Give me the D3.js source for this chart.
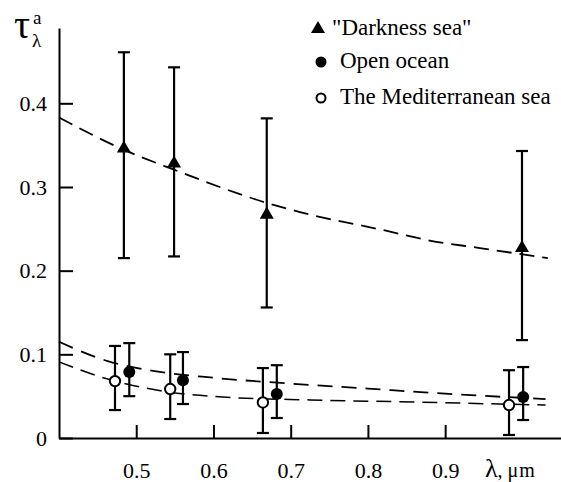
<html><head><meta charset="UTF-8"><title>Aerosol optical depth vs wavelength</title>
<style>
  body, html { margin: 0; padding: 0; background: #fff; }
  svg { display: block; }
  svg text { font-family: "Liberation Serif", "Times New Roman", Times, serif; fill: #000; }
  .axis path, .axis line { stroke: #000; stroke-width: 2; }
  .axis text { font-size: 22px; }
</style>
</head>
<body>
<div id="chart"></div>
<script src="https://d3js.org/d3.v7.min.js"></script>
<script>
const width = 561;
const height = 482;
const serif = '"Liberation Serif", "Times New Roman", Times, serif';

// axis ticks
const xTicks = [0.5, 0.6, 0.7, 0.8, 0.9];
const yTicks = [0, 0.1, 0.2, 0.3, 0.4];

// "Darkness sea" (triangles)
const darkLambda = [0.484, 0.549, 0.669, 0.9995];
const darkTau = [0.346, 0.328, 0.267, 0.227];
const darkLo = [0.215, 0.217, 0.156, 0.117];
const darkHi = [0.461, 0.443, 0.382, 0.343];

// Open ocean (filled circles)
const oceanLambda = [0.491, 0.5605, 0.682, 1.001];
const oceanTau = [0.0788, 0.069, 0.0525, 0.049];
const oceanLo = [0.050, 0.0406, 0.0239, 0.0215];
const oceanHi = [0.1134, 0.1027, 0.087, 0.0848];

// The Mediterranean sea (open circles)
const medLambda = [0.4725, 0.544, 0.664, 0.9827];
const medTau = [0.068, 0.0585, 0.0425, 0.0394];
const medLo = [0.0334, 0.0227, 0.006, 0.0036];
const medHi = [0.110, 0.100, 0.0836, 0.081];

// dashed fit curves
const darkCurveLambda = [0.40, 0.485, 0.548, 0.669, 0.712, 0.822, 0.88, 0.945, 1.033];
const darkCurveTau = [0.383, 0.344, 0.321, 0.281, 0.270, 0.248, 0.236, 0.227, 0.215];
const oceanCurveLambda = [0.40, 0.463, 0.524, 0.60, 0.70, 0.80, 0.90, 1.03];
const oceanCurveTau = [0.115, 0.092, 0.080, 0.072, 0.065, 0.059, 0.053, 0.0465];
const medCurveLambda = [0.40, 0.463, 0.528, 0.612, 0.725, 0.86, 0.97, 1.03];
const medCurveTau = [0.091, 0.0705, 0.057, 0.049, 0.0455, 0.043, 0.0406, 0.0394];

const svg = d3.select("#chart").append("svg")
  .attr("width", width)
  .attr("height", height)
  .style("font-family", serif);

const x = d3.scaleLinear().domain([0.4, 1.05]).range([59, 561]);
const y = d3.scaleLinear().domain([0, 0.49]).range([438, 28]);

// axes
svg.append("g")
  .attr("class", "axis")
  .attr("transform", `translate(${x(0.4)},0)`)
  .call(d3.axisLeft(y).tickValues(yTicks).tickSize(-14).tickSizeOuter(0).tickPadding(12)
    .tickFormat(d => d === 0 ? "0" : d3.format(".1f")(d)))
  .attr("font-family", serif);

svg.append("g")
  .attr("class", "axis")
  .attr("transform", `translate(0,${y(0)})`)
  .call(d3.axisBottom(x).tickValues(xTicks).tickSize(-13).tickSizeOuter(0).tickPadding(24)
    .tickFormat(d3.format(".1f")))
  .attr("font-family", serif);

svg.selectAll(".axis .domain").attr("stroke-width", 2.2);

// dashed curves
const line = d3.line().x(d => x(d[0])).y(d => y(d[1])).curve(d3.curveMonotoneX);
const curves = [
  { lam: darkCurveLambda, tau: darkCurveTau, dash: "15,8", w: 1.8 },
  { lam: oceanCurveLambda, tau: oceanCurveTau, dash: "15,9", w: 1.8 },
  { lam: medCurveLambda, tau: medCurveTau, dash: "15,8", w: 1.5 }
];
curves.forEach(c => {
  svg.append("path")
    .attr("d", line(d3.zip(c.lam, c.tau)))
    .attr("fill", "none")
    .attr("stroke", "#000")
    .attr("stroke-width", c.w)
    .attr("stroke-dasharray", c.dash);
});

// error bars
function errorBars(lam, lo, hi, capHalf) {
  const g = svg.append("g").attr("stroke", "#000").attr("stroke-width", 2.2);
  lam.forEach((l, i) => {
    g.append("line").attr("x1", x(l)).attr("x2", x(l)).attr("y1", y(lo[i])).attr("y2", y(hi[i]));
    g.append("line").attr("x1", x(l) - capHalf).attr("x2", x(l) + capHalf).attr("y1", y(lo[i])).attr("y2", y(lo[i]));
    g.append("line").attr("x1", x(l) - capHalf).attr("x2", x(l) + capHalf).attr("y1", y(hi[i])).attr("y2", y(hi[i]));
  });
}
errorBars(darkLambda, darkLo, darkHi, 6);
errorBars(oceanLambda, oceanLo, oceanHi, 6);
errorBars(medLambda, medLo, medHi, 6);

// markers
const tri = d3.symbol().type(d3.symbolTriangle).size(85);
svg.append("g").selectAll("path")
  .data(d3.zip(darkLambda, darkTau))
  .join("path")
  .attr("d", tri)
  .attr("transform", d => `translate(${x(d[0])},${y(d[1])})`)
  .attr("fill", "#000");

svg.append("g").selectAll("circle")
  .data(d3.zip(oceanLambda, oceanTau))
  .join("circle")
  .attr("cx", d => x(d[0]))
  .attr("cy", d => y(d[1]))
  .attr("r", 6)
  .attr("fill", "#000");

svg.append("g").selectAll("circle")
  .data(d3.zip(medLambda, medTau))
  .join("circle")
  .attr("cx", d => x(d[0]))
  .attr("cy", d => y(d[1]))
  .attr("r", 5.2)
  .attr("fill", "#fff")
  .attr("stroke", "#000")
  .attr("stroke-width", 2);

// legend
const legend = svg.append("g");
legend.append("path").attr("d", tri).attr("transform", "translate(318,29)").attr("fill", "#000");
legend.append("circle").attr("cx", 321).attr("cy", 62).attr("r", 5.5).attr("fill", "#000");
legend.append("circle").attr("cx", 321).attr("cy", 98).attr("r", 4.5)
  .attr("fill", "#fff").attr("stroke", "#000").attr("stroke-width", 2);
legend.append("text").attr("x", 332).attr("y", 35).attr("font-size", 23).text('"Darkness sea"');
legend.append("text").attr("x", 340).attr("y", 68).attr("font-size", 23).text("Open ocean");
legend.append("text").attr("x", 340).attr("y", 104).attr("font-size", 23).text("The Mediterranean sea");

// axis titles
svg.append("text").attr("x", 14).attr("y", 38).attr("font-size", 40).text("τ");
svg.append("text").attr("x", 32).attr("y", 47).attr("font-size", 19).text("λ");
svg.append("text").attr("x", 33).attr("y", 24).attr("font-size", 19).text("a");

const xt = svg.append("text").attr("x", 485).attr("y", 477);
xt.append("tspan").attr("font-size", 26).text("λ");
xt.append("tspan").attr("font-size", 20).text(", ");
xt.append("tspan").attr("font-size", 20).attr("letter-spacing", 1).text("μm");
</script>
</body></html>
